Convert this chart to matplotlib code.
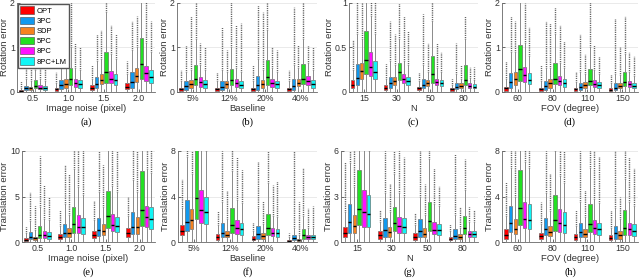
import matplotlib
matplotlib.use("Agg")
import matplotlib.pyplot as plt
from matplotlib.patches import Patch

plt.rcParams['font.family'] = ['Liberation Sans', 'DejaVu Sans']

methods = ["OPT", "3PC", "SDP", "5PC", "8PC", "8PC+LM"]
colors = ["#ff0000", "#1199ee", "#f5821f", "#22e022", "#ff11ff", "#11f5f5"]

noise_labels = ["0.5", "1.0", "1.5", "2.0"]
baseline_labels = ["5%", "12%", "20%", "40%"]
n_labels = ["15", "30", "50", "80"]
fov_labels = ["60", "80", "110", "150"]

# each box: (q1, median, q3, whisker top, highest outlier); one row per group, 6 methods
rot_noise = [
    [(0.01, 0.03, 0.04, 0.10, 0.25), (0.04, 0.08, 0.13, 0.30, 0.80), (0.05, 0.08, 0.12, 0.25, 0.60),
     (0.08, 0.13, 0.27, 0.50, 1.00), (0.06, 0.10, 0.15, 0.30, 0.70), (0.05, 0.08, 0.13, 0.25, 0.60)],
    [(0.03, 0.06, 0.10, 0.20, 0.45), (0.06, 0.15, 0.27, 0.55, 1.10), (0.10, 0.18, 0.30, 0.55, 1.00),
     (0.15, 0.30, 0.55, 1.00, 2.50), (0.12, 0.21, 0.30, 0.55, 1.10), (0.09, 0.17, 0.27, 0.50, 1.00)],
    [(0.04, 0.09, 0.15, 0.30, 0.60), (0.08, 0.17, 0.34, 0.70, 1.30), (0.18, 0.27, 0.40, 0.75, 1.40),
     (0.20, 0.45, 0.90, 1.80, 2.50), (0.20, 0.30, 0.47, 0.85, 1.50), (0.15, 0.26, 0.40, 0.75, 1.30)],
    [(0.06, 0.12, 0.20, 0.40, 0.70), (0.10, 0.22, 0.45, 0.95, 1.60), (0.22, 0.37, 0.55, 1.00, 1.70),
     (0.30, 0.62, 1.22, 2.50, 2.50), (0.25, 0.42, 0.58, 1.10, 2.50), (0.20, 0.34, 0.50, 0.90, 1.60)],
]
rot_baseline = [
    [(0.02, 0.06, 0.10, 0.25, 0.50), (0.05, 0.13, 0.24, 0.45, 1.05), (0.10, 0.18, 0.27, 0.50, 1.70),
     (0.15, 0.30, 0.60, 1.20, 2.50), (0.12, 0.22, 0.33, 0.60, 1.10), (0.10, 0.17, 0.27, 0.50, 1.00)],
    [(0.02, 0.06, 0.10, 0.25, 0.45), (0.05, 0.12, 0.24, 0.50, 1.45), (0.10, 0.17, 0.25, 0.45, 0.95),
     (0.15, 0.27, 0.52, 1.00, 2.50), (0.12, 0.21, 0.30, 0.55, 1.50), (0.09, 0.16, 0.25, 0.45, 1.55)],
    [(0.02, 0.06, 0.10, 0.25, 0.60), (0.05, 0.16, 0.36, 0.75, 1.95), (0.10, 0.18, 0.27, 0.50, 1.80),
     (0.15, 0.33, 0.73, 1.40, 2.50), (0.12, 0.21, 0.30, 0.55, 1.00), (0.10, 0.17, 0.25, 0.45, 0.95)],
    [(0.02, 0.06, 0.10, 0.25, 0.50), (0.05, 0.13, 0.30, 0.60, 1.90), (0.13, 0.20, 0.30, 0.55, 1.05),
     (0.18, 0.30, 0.63, 1.20, 2.50), (0.15, 0.25, 0.35, 0.65, 1.05), (0.10, 0.18, 0.28, 0.50, 1.00)],
]
rot_n = [
    [(0.04, 0.08, 0.13, 0.25, 0.58), (0.08, 0.16, 0.32, 0.65, 1.20), (0.15, 0.24, 0.33, 0.60, 1.20),
     (0.20, 0.36, 0.68, 1.20, 1.20), (0.18, 0.28, 0.45, 0.85, 1.20), (0.15, 0.23, 0.35, 0.65, 1.20)],
    [(0.02, 0.05, 0.08, 0.15, 0.32), (0.05, 0.10, 0.17, 0.35, 0.80), (0.08, 0.12, 0.17, 0.30, 0.65),
     (0.13, 0.22, 0.33, 0.60, 1.00), (0.10, 0.15, 0.20, 0.35, 0.85), (0.08, 0.12, 0.17, 0.30, 0.68)],
    [(0.02, 0.04, 0.06, 0.12, 0.22), (0.04, 0.08, 0.15, 0.30, 0.88), (0.07, 0.10, 0.13, 0.22, 0.55),
     (0.10, 0.20, 0.40, 0.80, 1.20), (0.08, 0.11, 0.15, 0.27, 0.55), (0.07, 0.10, 0.13, 0.22, 0.45)],
    [(0.01, 0.03, 0.04, 0.08, 0.15), (0.03, 0.06, 0.10, 0.20, 0.55), (0.05, 0.07, 0.10, 0.15, 0.30),
     (0.08, 0.14, 0.30, 0.60, 0.85), (0.05, 0.07, 0.10, 0.16, 0.28), (0.04, 0.06, 0.09, 0.14, 0.28)],
]
rot_fov = [
    [(0.03, 0.08, 0.12, 0.30, 0.70), (0.08, 0.22, 0.42, 0.90, 1.70), (0.15, 0.30, 0.45, 0.90, 1.60),
     (0.25, 0.52, 1.05, 2.50, 2.50), (0.22, 0.38, 0.57, 1.10, 2.00), (0.18, 0.28, 0.42, 0.80, 1.45)],
    [(0.02, 0.06, 0.10, 0.25, 0.60), (0.05, 0.13, 0.25, 0.55, 1.60), (0.10, 0.20, 0.30, 0.55, 1.55),
     (0.18, 0.30, 0.66, 1.30, 1.90), (0.15, 0.24, 0.35, 0.65, 1.50), (0.12, 0.20, 0.30, 0.55, 1.15)],
    [(0.02, 0.06, 0.09, 0.22, 0.45), (0.05, 0.11, 0.20, 0.45, 1.30), (0.10, 0.15, 0.22, 0.40, 0.85),
     (0.15, 0.24, 0.52, 1.00, 2.50), (0.12, 0.18, 0.26, 0.50, 1.05), (0.10, 0.15, 0.22, 0.40, 0.80)],
    [(0.02, 0.05, 0.08, 0.20, 0.40), (0.05, 0.10, 0.20, 0.40, 1.65), (0.08, 0.14, 0.20, 0.38, 1.00),
     (0.13, 0.22, 0.44, 0.85, 1.70), (0.12, 0.17, 0.24, 0.45, 0.90), (0.09, 0.14, 0.20, 0.37, 0.80)],
]
tra_noise = [
    [(0.10, 0.25, 0.40, 1.0, 1.7), (0.30, 0.60, 1.10, 2.3, 5.5), (0.20, 0.40, 0.60, 1.3, 4.0),
     (0.40, 0.80, 1.80, 3.8, 9.5), (0.40, 0.75, 1.20, 2.5, 6.3), (0.35, 0.70, 1.15, 2.4, 5.0)],
    [(0.30, 0.55, 0.90, 1.8, 3.5), (0.60, 1.00, 2.00, 4.2, 8.5), (0.60, 0.95, 1.50, 3.0, 7.5),
     (1.00, 2.00, 3.90, 8.0, 12.0), (1.00, 1.70, 3.00, 6.0, 12.0), (0.90, 1.60, 2.60, 5.2, 10.0)],
    [(0.40, 0.75, 1.20, 2.4, 4.5), (0.70, 1.30, 2.60, 5.5, 10.0), (0.80, 1.20, 2.00, 3.8, 8.5),
     (1.50, 2.90, 5.60, 12.0, 12.0), (1.20, 1.90, 3.10, 6.2, 12.0), (1.10, 1.80, 2.70, 5.5, 12.0)],
    [(0.60, 1.00, 1.50, 2.9, 5.0), (0.90, 1.70, 3.30, 6.8, 12.0), (0.90, 1.70, 2.70, 5.5, 12.0),
     (1.80, 3.50, 7.80, 12.0, 12.0), (1.60, 2.80, 4.00, 8.0, 12.0), (1.40, 2.50, 3.80, 7.6, 12.0)],
]
tra_baseline = [
    [(0.60, 1.00, 1.50, 3.0, 5.5), (1.00, 1.80, 3.70, 7.5, 9.0), (1.10, 1.90, 2.90, 6.0, 9.0),
     (2.00, 3.90, 9.00, 9.0, 9.0), (1.70, 2.80, 4.60, 9.0, 9.0), (1.60, 2.60, 4.00, 8.0, 9.0)],
    [(0.20, 0.45, 0.70, 1.5, 2.7), (0.40, 0.80, 1.70, 3.5, 8.0), (0.40, 0.65, 1.00, 2.0, 4.5),
     (0.80, 1.50, 3.00, 6.2, 9.0), (0.70, 1.20, 1.90, 3.7, 7.5), (0.60, 1.10, 1.70, 3.4, 6.3)],
    [(0.15, 0.30, 0.50, 1.0, 1.8), (0.30, 0.70, 1.40, 3.0, 7.0), (0.25, 0.50, 0.80, 1.6, 3.6),
     (0.60, 1.20, 2.50, 5.2, 9.0), (0.50, 0.80, 1.20, 2.3, 5.0), (0.45, 0.75, 1.10, 2.2, 5.3)],
    [(0.05, 0.12, 0.20, 0.45, 0.8), (0.15, 0.35, 0.60, 1.2, 8.0), (0.10, 0.20, 0.30, 0.65, 3.5),
     (0.30, 0.60, 1.10, 2.3, 6.5), (0.25, 0.42, 0.60, 1.2, 3.0), (0.25, 0.42, 0.60, 1.2, 3.2)],
]
tra_n = [
    [(0.35, 0.60, 1.00, 2.0, 5.3), (0.60, 1.35, 2.50, 5.2, 7.0), (0.60, 1.05, 1.80, 3.6, 7.0),
     (1.10, 2.20, 4.75, 7.0, 7.0), (1.00, 2.00, 3.40, 7.0, 7.0), (1.00, 1.85, 3.10, 6.0, 7.0)],
    [(0.20, 0.45, 0.70, 1.3, 2.1), (0.35, 0.80, 1.55, 3.2, 6.0), (0.35, 0.65, 1.00, 2.0, 3.8),
     (0.70, 1.25, 2.30, 4.5, 7.0), (0.60, 1.05, 1.65, 3.2, 6.0), (0.60, 1.00, 1.55, 3.0, 5.6)],
    [(0.15, 0.35, 0.60, 1.1, 1.9), (0.35, 0.75, 1.50, 3.0, 6.0), (0.30, 0.55, 0.90, 1.8, 3.8),
     (0.70, 1.40, 2.65, 5.5, 7.0), (0.50, 0.80, 1.30, 2.5, 4.8), (0.45, 0.80, 1.20, 2.4, 3.7)],
    [(0.10, 0.22, 0.35, 0.7, 1.2), (0.20, 0.42, 0.85, 1.8, 5.8), (0.20, 0.32, 0.50, 0.9, 2.3),
     (0.50, 0.90, 1.70, 3.4, 5.5), (0.30, 0.50, 0.70, 1.3, 2.3), (0.30, 0.50, 0.70, 1.3, 2.1)],
]
tra_fov = [
    [(0.30, 0.65, 1.10, 2.3, 5.3), (0.90, 1.65, 3.20, 6.5, 9.0), (0.70, 1.15, 2.00, 4.0, 8.0),
     (1.50, 3.00, 6.30, 9.0, 9.0), (1.20, 2.00, 3.50, 7.0, 9.0), (1.10, 1.90, 3.30, 6.5, 9.0)],
    [(0.25, 0.50, 0.80, 1.6, 3.5), (0.60, 1.15, 2.10, 4.3, 8.0), (0.50, 0.90, 1.40, 2.7, 6.0),
     (1.00, 1.95, 4.10, 8.0, 9.0), (0.90, 1.65, 2.90, 5.8, 9.0), (0.80, 1.50, 2.60, 5.2, 8.0)],
    [(0.20, 0.45, 0.70, 1.4, 2.8), (0.40, 0.85, 1.70, 3.5, 8.0), (0.40, 0.70, 1.10, 2.2, 4.5),
     (0.90, 1.60, 3.30, 6.5, 9.0), (0.70, 1.20, 1.90, 3.8, 8.0), (0.60, 1.10, 1.70, 3.4, 7.5)],
    [(0.15, 0.35, 0.60, 1.2, 2.8), (0.30, 0.75, 1.40, 3.0, 8.0), (0.30, 0.60, 1.00, 2.0, 4.0),
     (0.60, 1.20, 2.80, 5.5, 9.0), (0.60, 1.10, 1.70, 3.5, 7.5), (0.50, 1.00, 1.60, 3.2, 6.5)],
]

# panel: data, group labels, xlabel, ylabel, ylim, yticks, caption, axes box in pixels (left, top, right, bottom)
panels = [
    (rot_noise, noise_labels, "Image noise (pixel)", "Rotation error", 2, [0, 1, 2], "(a)", (17, 3, 155, 92)),
    (rot_baseline, baseline_labels, "Baseline", "Rotation error", 2, [0, 1, 2], "(b)", (177, 3, 317, 92)),
    (rot_n, n_labels, "N", "Rotation error", 1, [0, 0.5, 1], "(c)", (349, 3, 478, 92)),
    (rot_fov, fov_labels, "FOV (degree)", "Rotation error", 2, [0, 1, 2], "(d)", (502, 3, 638, 92)),
    (tra_noise, noise_labels, "Image noise (pixel)", "Translation error", 10, [0, 5, 10], "(e)", (22, 151, 155, 242)),
    (tra_baseline, baseline_labels, "Baseline", "Translation error", 8, [0, 4, 8], "(f)", (178, 151, 317, 242)),
    (tra_n, n_labels, "N", "Translation error", 6, [0, 3, 6], "(g)", (341, 151, 478, 242)),
    (tra_fov, fov_labels, "FOV (degree)", "Translation error", 8, [0, 4, 8], "(h)", (502, 151, 638, 242)),
]

W, H = 640, 280
fig = plt.figure(figsize=(W / 100, H / 100), dpi=100)

step = 0.135
width = 0.10
for data, glabels, xlab, ylab, ymax, yt, cap, (l, t, r, b) in panels:
    ax = fig.add_axes([l / W, 1 - b / H, (r - l) / W, (b - t) / H])
    for g, group in enumerate(data):
        for m, (q1, med, q3, whi, fmax) in enumerate(group):
            pos = g + 1 + (m - 2.5) * step
            st = [{"q1": q1, "med": med, "q3": q3, "whislo": 0.0, "whishi": whi, "fliers": []}]
            ax.bxp(st, positions=[pos], widths=width, patch_artist=True,
                   showfliers=False, showcaps=False, manage_ticks=False,
                   boxprops=dict(facecolor=colors[m], edgecolor="#555555", linewidth=0.4),
                   whiskerprops=dict(color="#8a8a8a", linewidth=0.7),
                   medianprops=dict(color="black", linewidth=1.0))
            if fmax > whi:
                ax.vlines(pos, whi, fmax, colors="#222222", linewidth=1.0,
                          linestyles=(0, (0.5, 0.8)), zorder=1)
    ax.set_xlim(0.55, 4.45)
    ax.set_ylim(0, ymax)
    ax.set_yticks(yt)
    ax.set_yticklabels([("%g" % v) for v in yt])
    ax.set_xticks([1, 2, 3, 4])
    ax.set_xticklabels(glabels)
    ax.tick_params(direction="in", length=2, width=0.5, labelsize=6.3, pad=1.5, colors="#333333")
    ax.yaxis.grid(True, color="#e6e6e6", linewidth=0.6)
    ax.set_axisbelow(True)
    for s in ["top", "right"]:
        ax.spines[s].set_visible(False)
    for s in ["left", "bottom"]:
        ax.spines[s].set_color("#666666")
        ax.spines[s].set_linewidth(0.6)
    ax.set_xlabel(xlab, fontsize=6.8, color="#333333", labelpad=1)
    ax.set_ylabel(ylab, fontsize=6.8, color="#333333", labelpad=0.5)
    cy = 125 if t < 100 else 275
    fig.text((l + r) / 2 / W, 1 - cy / H, cap, ha="center", va="baseline",
             fontsize=7.5, family="Liberation Serif")
    if cap == "(a)":
        handles = [Patch(facecolor=c, edgecolor="#444444", linewidth=0.4) for c in colors]
        ax.legend(handles, methods, loc="upper left", fontsize=5.5, frameon=True,
                  fancybox=False, edgecolor="#555555", framealpha=1,
                  handlelength=1.8, handleheight=1.1, handletextpad=0.3,
                  labelspacing=0.25, borderpad=0.3, borderaxespad=0.15)

fig.savefig("out.png", dpi=100)
